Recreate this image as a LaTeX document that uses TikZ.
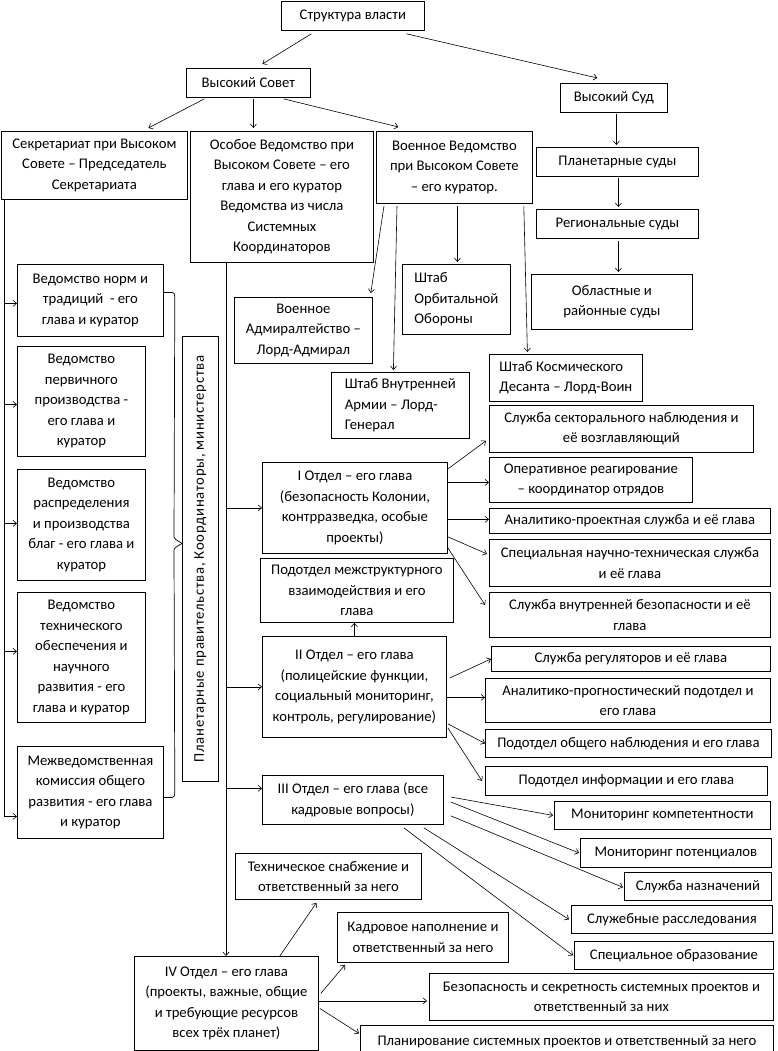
\documentclass[tikz,border=0pt]{standalone}
\usepackage{fontspec}
\setmainfont{Carlito}
\usetikzlibrary{arrows.meta,calc}
\tikzset{
 box/.style={draw, line width=0.8pt, inner sep=0pt, font=\fontsize{14.7}{20.5}\selectfont, anchor=north west},
 arr/.style={draw, line width=0.6pt, -{Straight Barb[length=3.5pt,width=6pt]}},
 ln/.style={draw, line width=0.8pt},
}
\newcommand\bx[7][center]{%
 \pgfmathsetmacro\myW{#5-#3}\pgfmathsetmacro\myH{#6-#4}%
 \node[box,align=#1,minimum width=\myW pt,minimum height=\myH pt] (#2) at (#3,#4) {#7};}
\begin{document}
\begin{tikzpicture}[x=1pt,y=-1pt]
\useasboundingbox (0,0) rectangle (777,1051);
% top part
\bx{top}{281}{1}{424}{30}{Структура власти}
\bx{sovet}{186}{68}{310}{97}{Высокий Совет}
\bx{sud}{560}{83}{667}{112}{Высокий Суд}
\bx{sekr}{1}{131}{187}{199}{Секретариат при Высоком\\Совете – Председатель\\Секретариата}
\bx{osob}{190}{131}{373}{262}{Особое Ведомство при\\Высоком Совете – его\\глава и его куратор\\Ведомства из числа\\Системных\\Координаторов}
\bx{voen}{376}{131}{532}{203}{Военное Ведомство\\при Высоком Совете\\– его куратор.}
\bx{plan}{536}{147}{698}{176}{Планетарные суды}
\bx{reg}{536}{209}{698}{238}{Региональные суды}
\bx{obl}{531}{274}{692}{329}{Областные и\\районные суды}
\bx[left]{orb}{402}{264}{510}{334}{Штаб\\Орбитальной\\Обороны}
\bx{adm}{234}{297}{372}{363}{Военное\\Адмиралтейство –\\Лорд-Адмирал}
\bx[left]{vnutr}{331}{372}{469}{438}{Штаб Внутренней\\Армии – Лорд-\\Генерал}
\bx[left]{kosm}{489}{354}{642}{401}{Штаб Космического\\Десанта – Лорд-Воин}
% left column
\bx{norm}{17}{264}{163}{336}{Ведомство норм и\\традиций\ \ - его\\глава и куратор}
\bx{perv}{17}{346}{145}{456}{Ведомство\\первичного\\производства -\\его глава и\\куратор}
\bx{raspr}{17}{469}{145}{580}{Ведомство\\распределения\\и производства\\благ - его глава и\\куратор}
\bx{tehn}{17}{592}{145}{722}{Ведомство\\технического\\обеспечения и\\научного\\развития - его\\глава и куратор}
\bx{mezhved}{17}{746}{163}{838}{Межведомственная\\комиссия общего\\развития - его глава\\и куратор}
\bx{vert}{182}{336}{218}{781}{}
\node[rotate=90, font=\fontsize{14.7}{20.5}\selectfont\addfontfeatures{LetterSpace=5}] (vertlbl) at (vert.center) {Планетарные правительства, Координаторы, министерства};
% departments
\bx{sekt}{489}{405}{753}{452}{Служба секторального наблюдения и\\её возглавляющий}
\bx{oper}{489}{457}{692}{502}{Оперативное реагирование\\– координатор отрядов}
\bx{analit}{489}{508}{770}{533}{Аналитико-проектная служба и её глава}
\bx{nauch}{489}{539}{770}{586}{Специальная научно-техническая служба\\и её глава}
\bx{vnbez}{489}{592}{770}{637}{Служба внутренней безопасности и её\\глава}
\bx{otd1}{262}{462}{447}{553}{I Отдел – его глава\\(безопасность Колонии,\\контрразведка, особые\\проекты)}
\bx{podmezh}{260}{558}{453}{622}{Подотдел межструктурного\\взаимодействия и его\\глава}
\bx{otd2}{262}{636}{446}{737}{II Отдел – его глава\\(полицейские функции,\\социальный мониторинг,\\контроль, регулирование)}
\bx{regul}{491}{646}{770}{671}{Служба регуляторов и её глава}
\bx{prog}{485}{678}{770}{722}{Аналитико-прогностический подотдел и\\его глава}
\bx{obsh}{485}{729}{771}{757}{Подотдел общего наблюдения и его глава}
\bx{inform}{485}{766}{767}{795}{Подотдел информации и его глава}
\bx{otd3}{262}{775}{443}{824}{III Отдел – его глава (все\\кадровые вопросы)}
\bx{komp}{554}{801}{770}{829}{Мониторинг компетентности}
\bx{potenc}{580}{838}{771}{867}{Мониторинг потенциалов}
\bx{naznach}{624}{872}{771}{900}{Служба назначений}
\bx{rassl}{571}{905}{772}{933}{Служебные расследования}
\bx{spobr}{574}{941}{773}{969}{Специальное образование}
\bx{tehsn}{235}{853}{421}{899}{Техническое снабжение и\\ответственный за него}
\bx{kadr}{337}{912}{508}{962}{Кадровое наполнение и\\ответственный за него}
\bx{bezsek}{429}{973}{773}{1020}{Безопасность и секретность системных проектов и\\ответственный за них}
\bx{planir}{360}{1025}{773}{1058}{Планирование системных проектов и ответственный за него}
\bx{otd4}{134}{956}{318}{1050}{IV Отдел – его глава\\(проекты, важные, общие\\и требующие ресурсов\\всех трёх планет)}
% top connectors
\draw[arr] ([xshift=-41.5pt,yshift=-3pt]top.south) -- ([xshift=14pt,yshift=4pt]sovet.north);
\draw[arr] ([xshift=53.5pt,yshift=-3pt]top.south) -- ([xshift=-16.5pt,yshift=5pt]sud.north);
\draw[arr] ([xshift=-44pt,yshift=-1pt]sovet.south) -- ([xshift=54pt,yshift=3pt]sekr.north);
\draw[arr] ([xshift=5pt,yshift=-1pt]sovet.south) -- ([xshift=-28.5pt,yshift=3pt]osob.north);
\draw[arr] ([xshift=35pt,yshift=-1pt]sovet.south) -- ([xshift=-56pt,yshift=4pt]voen.north);
\draw[arr] ([xshift=2.5pt,yshift=-1pt]sud.south) -- ([xshift=-1pt,yshift=2pt]plan.north);
\draw[arr] ([xshift=1pt,yshift=-1pt]plan.south) -- ([xshift=1pt,yshift=2pt]reg.north);
\draw[arr] ([xshift=1pt,yshift=-2pt]reg.south) -- ([xshift=6.5pt,yshift=2pt]obl.north);
\draw[arr] ([xshift=8pt,yshift=-2pt]voen.south west) -- ([xshift=-2pt,yshift=4pt]adm.north east);
\draw[arr] ([xshift=21pt,yshift=-2pt]voen.south west) -- ([xshift=-7pt,yshift=2pt]vnutr.north);
\draw[arr] ([xshift=3pt,yshift=-2pt]voen.south) -- ([xshift=1pt,yshift=2pt]orb.north);
\draw[arr] ([xshift=-9pt,yshift=-2pt]voen.south east) -- ([xshift=-38.5pt,yshift=2pt]kosm.north);
% left spine
\coordinate (sl) at ([xshift=3pt]sekr.south west);
\coordinate (pn) at ([yshift=-3pt]norm.west);
\coordinate (pp) at ([yshift=-3pt]perv.west);
\coordinate (pr) at ([yshift=1.5pt]raspr.west);
\coordinate (pt) at ([yshift=6pt]tehn.west);
\coordinate (pm) at ([yshift=-24pt]mezhved.west);
\draw[arr] (sl) |- (pm);
\draw[arr] (sl |- pn) -- (pn);
\draw[arr] (sl |- pp) -- (pp);
\draw[arr] (sl |- pr) -- (pr);
\draw[arr] (sl |- pt) -- (pt);
% bracket
\coordinate (b1) at ([yshift=8pt]norm.east);
\coordinate (b2) at ([yshift=-5pt]mezhved.east);
\coordinate (tip) at ([yshift=15.5pt]vert.west);
\draw[ln,line width=0.7pt,rounded corners=1.5pt] (b1) -- ++(10,0) -- ++(1,3) -- ([xshift=-8pt,yshift=5pt]tip) -- (tip);
\draw[ln,line width=0.7pt,rounded corners=1.5pt] (b2) -- ++(10,0) -- ++(1,-3) -- ([xshift=-8pt,yshift=-5pt]tip) -- (tip);
% osob spine
\coordinate (ol) at ([xshift=36pt]osob.south west);
\coordinate (p3) at ([yshift=11.5pt]otd3.west);
\draw[arr] (ol) -- (ol |- otd4.north);
\draw[arr] (ol |- otd1.west) -- (otd1.west);
\draw[arr] (ol |- otd2.west) -- (otd2.west);
\draw[arr] (ol |- p3) -- (p3);
% I
\coordinate (q1) at ([yshift=-2.5pt]oper.west);
\coordinate (q2) at ([yshift=1.5pt]analit.west);
\draw[arr] ([yshift=-7pt]otd1.north east) -- ([xshift=-3pt,yshift=12pt]sekt.south west);
\draw[arr] (otd1.east |- q1) -- (q1);
\draw[arr] (otd1.east |- q2) -- (q2);
\draw[arr] ([yshift=17pt]otd1.south east) -- ([xshift=-2pt,yshift=9pt]nauch.west);
\draw[arr] ([yshift=6pt]otd1.south east) -- ([xshift=-4pt,yshift=10pt]vnbez.west);
% II
\coordinate (q3) at ([yshift=3pt]prog.west);
\draw[arr] (otd2.north) -- (otd2.north |- podmezh.south);
\draw[arr] ([xshift=3pt,yshift=-42pt]otd2.north east) -- (regul.west);
\draw[arr] (otd2.east |- q3) -- (q3);
\draw[arr] ([xshift=1pt,yshift=14pt]otd2.south east) -- (obsh.west);
\draw[arr] ([xshift=1pt,yshift=10pt]otd2.south east) -- ([xshift=-3pt]inform.west);
% III
\draw[arr] ([xshift=7pt,yshift=-22pt]otd3.north east) -- ([xshift=-1pt]komp.west);
\draw[arr] ([xshift=7pt,yshift=-27pt]otd3.north east) -- ([xshift=-1pt]potenc.west);
\draw[arr] ([xshift=7pt,yshift=9pt]otd3.south east) -- ([xshift=-1pt,yshift=-1pt]naznach.west);
\draw[arr] ([xshift=-20pt,yshift=-3pt]otd3.south east) -- ([xshift=-2pt]rassl.west);
\draw[arr] ([xshift=-40pt,yshift=-3pt]otd3.south east) -- ([xshift=-1pt]spobr.west);
% IV
\coordinate (q4) at ([yshift=-4pt]bezsek.west);
\draw[arr] ([xshift=-39pt]otd4.north east) -- ([xshift=-12pt,yshift=-3pt]tehsn.south);
\draw[arr] ([xshift=2pt,yshift=10pt]otd4.east) -- ([xshift=8pt,yshift=-2pt]kadr.south west);
\draw[arr] (otd4.east |- q4) -- ([xshift=-2pt]q4);
\draw[arr] ([xshift=1pt,yshift=-5pt]otd4.east) -- ([xshift=-1pt,yshift=8.5pt]planir.west);
\end{tikzpicture}
\end{document}
